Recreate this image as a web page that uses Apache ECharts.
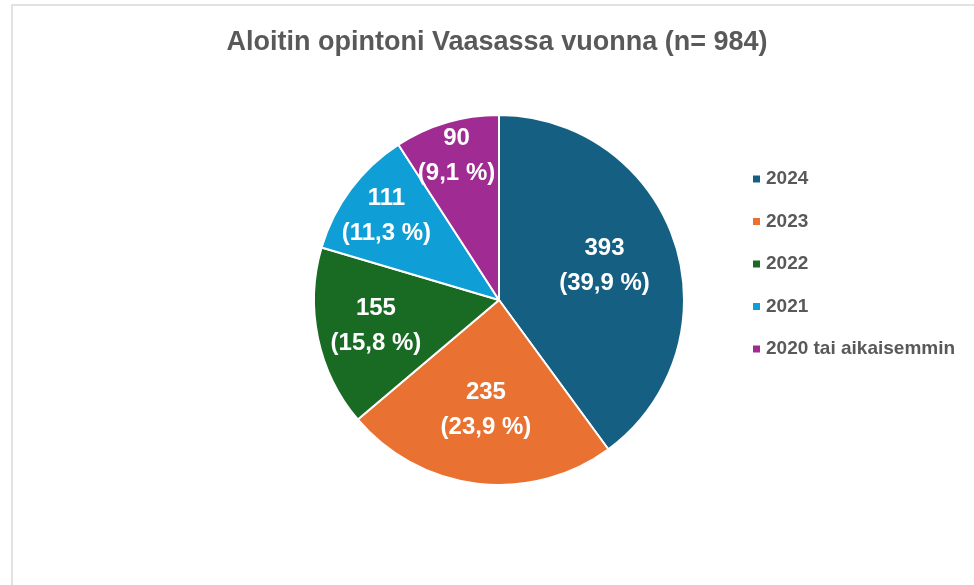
<!DOCTYPE html>
<html>
<head>
<meta charset="utf-8">
<script src="https://cdn.jsdelivr.net/npm/echarts@6/dist/echarts.min.js"></script>
<style>
  html, body { margin: 0; padding: 0; background: #fff; }
  #main { width: 974px; height: 585px; }
</style>
</head>
<body>
<div id="main"></div>
<script>
// vuodet ja vastaajien määrät
var years = ['2024', '2023', '2022', '2021', '2020 tai aikaisemmin']
var counts = [393, 235, 155, 111, 90]
var colors = ['#156082', '#E97132', '#196B24', '#0F9ED5', '#A02B93']
// etiketin etäisyys keskipisteestä (osuus säteestä), kuten Excelissä
var labelRadius = [0.6, 0.6, 0.68, 0.76, 0.81]

var total = counts.reduce(function(a, b) { return a + b }, 0)
var cx = 499, cy = 300, r = 185

// lasketaan siivujen keskikulmat (alkaa ylhäältä, myötäpäivään)
var midAngles = []
var acc = 0
for (var i = 0; i < counts.length; i++) {
  midAngles.push((acc + counts[i] / 2) / total * Math.PI * 2)
  acc += counts[i]
}

var pieData = years.map(function(y, i) {
  return { name: y, value: counts[i], itemStyle: { color: colors[i] } }
})

var chart = echarts.init(document.getElementById('main'))
var option = {
  backgroundColor: '#fff',
  animation: false,
  graphic: [{
    type: 'rect',
    shape: { x: 12, y: 5, width: 1000, height: 620 },
    style: { fill: 'none', stroke: '#d9d9d9', lineWidth: 1.5 },
    silent: true
  }],
  title: {
    text: 'Aloitin opintoni Vaasassa vuonna (n= 984)',
    left: 497,
    top: 29,
    padding: 0,
    textAlign: 'center',
    textStyle: {
      fontFamily: 'Liberation Sans',
      fontSize: 27,
      fontWeight: 'bold',
      color: '#595959'
    }
  },
  legend: {
    orient: 'vertical',
    left: 751,
    top: 169,
    padding: 0,
    itemWidth: 9,
    itemHeight: 9,
    itemGap: 22.5,
    icon: 'rect',
    data: years,
    textStyle: {
      fontFamily: 'Liberation Sans',
      fontSize: 19,
      fontWeight: 'bold',
      color: '#595959',
      lineHeight: 20
    }
  },
  series: [{
    type: 'pie',
    center: [cx, cy],
    radius: [0, r],
    startAngle: 90,
    clockwise: true,
    data: pieData,
    itemStyle: { borderColor: '#fff', borderWidth: 2 },
    emphasis: { disabled: true },
    labelLine: { show: false },
    label: {
      show: true,
      position: 'inside',
      color: '#fff',
      fontFamily: 'Liberation Sans',
      fontSize: 24,
      fontWeight: 'bold',
      lineHeight: 35,
      align: 'center',
      verticalAlign: 'middle',
      formatter: function(p) {
        var pct = (p.value / total * 100).toFixed(1).replace('.', ',')
        return p.value + '\n(' + pct + ' %)'
      }
    },
    labelLayout: function(params) {
      var i = params.dataIndex
      var a = midAngles[i]
      var rr = r * labelRadius[i]
      return {
        x: cx + rr * Math.sin(a),
        y: cy - rr * Math.cos(a),
        align: 'center',
        verticalAlign: 'middle'
      }
    }
  }]
}
chart.setOption(option)
</script>
</body>
</html>
